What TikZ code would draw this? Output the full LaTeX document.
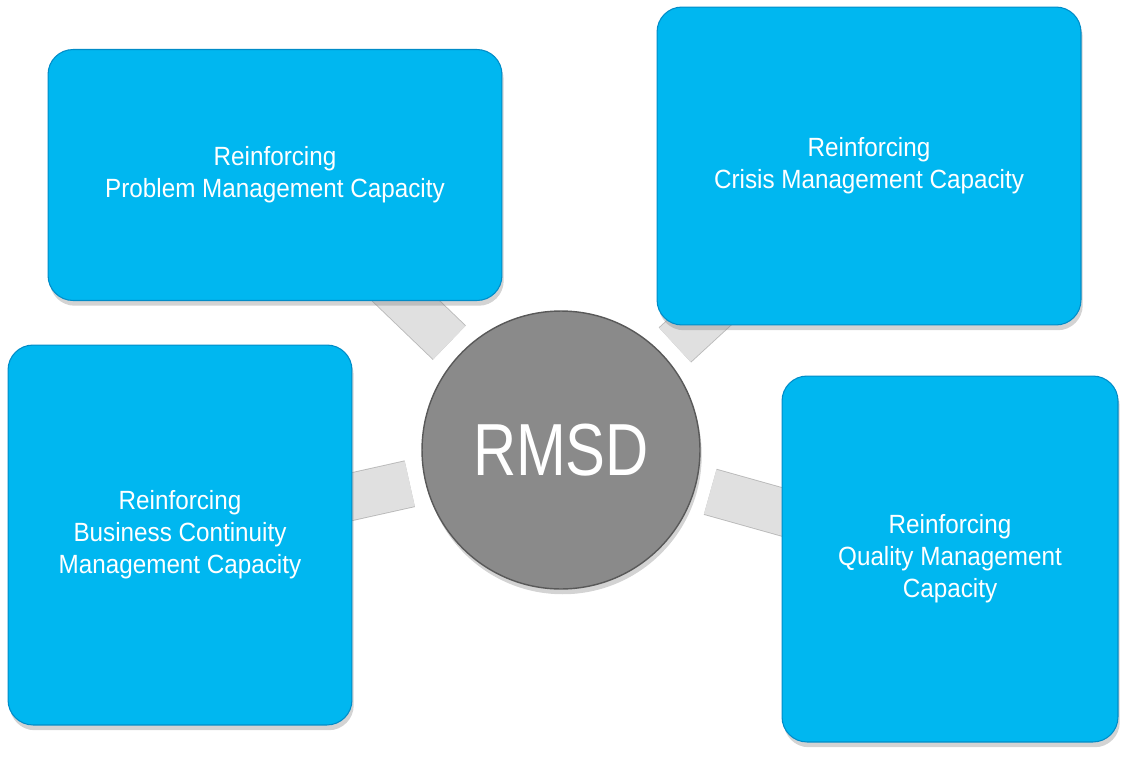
\documentclass[tikz,border=0pt]{standalone}
\usepackage{fontspec}
\setmainfont{Liberation Sans}
\newfontfamily\boxfont[FakeStretch=0.92]{Liberation Sans}
\newfontfamily\hubfont[FakeStretch=0.81]{Liberation Sans}
\usetikzlibrary{calc,shadows}
\pgfdeclarelayer{background}
\pgfsetlayers{background,main}
\definecolor{capblue}{RGB}{0,183,240}
\definecolor{capedge}{RGB}{0,140,200}
\definecolor{hubgray}{RGB}{138,138,138}
\definecolor{bargray}{RGB}{224,224,224}
\tikzset{
  capbox/.style={draw=capedge,line width=0.6pt,fill=capblue,rounded corners=0.5cm,align=center,text=white,
    font=\boxfont\fontsize{15}{18.2}\selectfont,drop shadow={opacity=0.35,shadow xshift=1pt,shadow yshift=-3pt}},
  hub/.style={circle,draw=gray!70!black,line width=0.8pt,fill=hubgray,text=white,inner sep=0pt,minimum size=5.56cm,
    font=\hubfont\fontsize{42}{42}\selectfont,drop shadow={opacity=0.35,shadow xshift=1pt,shadow yshift=-3pt}},
  bar/.style={draw=gray!55,double=bargray,double distance=0.92cm,line width=0.5pt}
}
\begin{document}
\begin{tikzpicture}[x=0.02cm,y=-0.02cm]
\useasboundingbox (0,0) rectangle (1128,757);
% hub and the four capacities
\node[hub] (rmsd) at (561,450) {RMSD};
\node[capbox,minimum width=9.08cm,minimum height=5.02cm] (pm) at (275,175) {Reinforcing\\Problem Management Capacity};
\node[capbox,minimum width=8.48cm,minimum height=6.36cm] (cm) at (869,166) {Reinforcing\\Crisis Management Capacity};
\node[capbox,minimum width=6.88cm,minimum height=7.6cm] (bc) at (180,535) {Reinforcing\\Business Continuity\\Management Capacity};
\node[capbox,minimum width=6.72cm,minimum height=7.32cm] (qm) at (950,559) {Reinforcing\\Quality Management\\Capacity};
% connectors behind
\begin{pgfonlayer}{background}
\foreach \B in {pm,cm,bc,qm}{\draw[bar] (\B.center) -- ($(rmsd.center)!3.1cm!(\B.center)$);}
\end{pgfonlayer}
\end{tikzpicture}
\end{document}
